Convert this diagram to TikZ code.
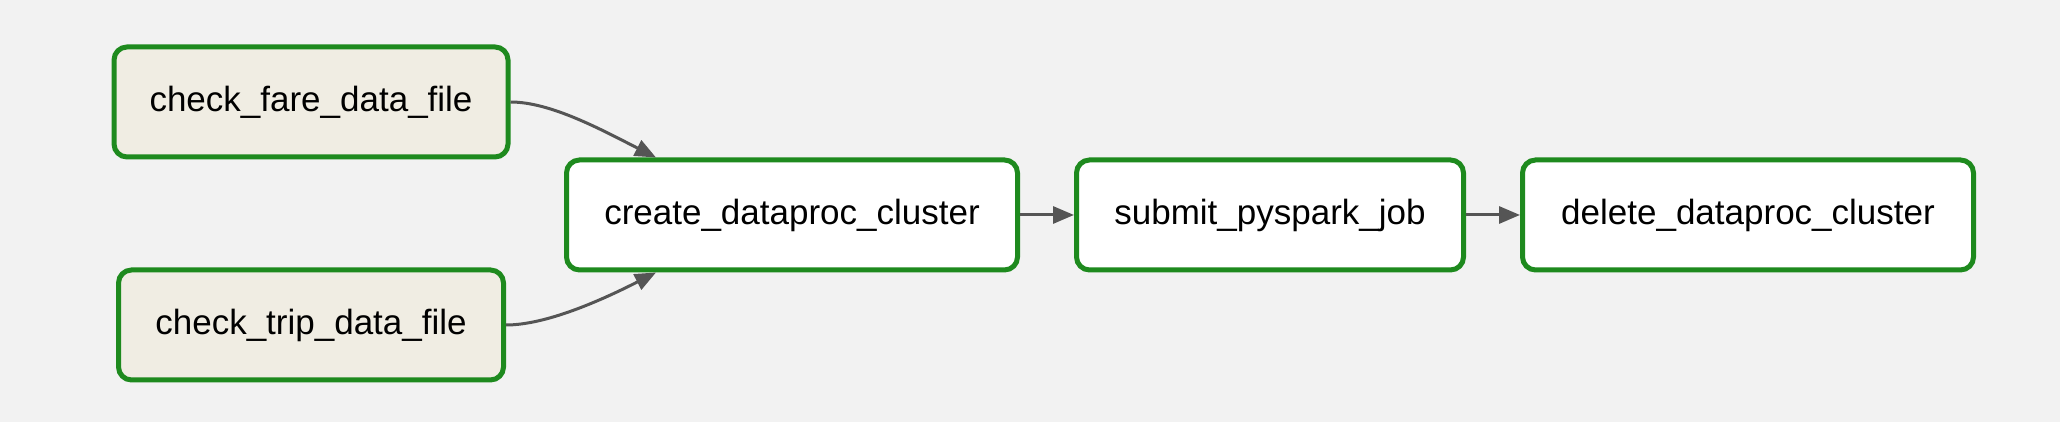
\documentclass[tikz,border=0pt]{standalone}
\usepackage{fontspec}
\setmainfont{Liberation Sans}
\usetikzlibrary{arrows.meta,calc}
\definecolor{bg}{HTML}{F2F2F2}
\definecolor{okgreen}{HTML}{1E8A1E}
\definecolor{sensorfill}{HTML}{F0EDE3}
\definecolor{edgegray}{HTML}{555555}
\tikzset{
  task/.style={draw=okgreen, line width=5pt, rounded corners=13pt, fill=white,
    minimum height=110pt, inner sep=0pt, font=\fontsize{35}{40}\selectfont},
  sensor/.style={task, fill=sensorfill},
  edge/.style={draw=edgegray, line width=3pt, -{Triangle[length=21pt,width=17pt]}}
}
\begin{document}
\begin{tikzpicture}[x=1pt,y=1pt]
\fill[bg] (0,0) rectangle (2060,422);
\useasboundingbox (0,0) rectangle (2060,422);
\node[sensor, minimum width=394pt] (fare) at (311,320) {check\_fare\_data\_file};
\node[sensor, minimum width=385pt] (trip) at (311,97) {check\_trip\_data\_file};
\node[task, minimum width=451pt] (create) at (792,207) {create\_dataproc\_cluster};
\node[task, minimum width=387pt] (submit) at (1270,207) {submit\_pyspark\_job};
\node[task, minimum width=451pt] (delete) at (1748,207) {delete\_dataproc\_cluster};
\coordinate (cin1) at ($(create.north west)+(92,0)$);
\coordinate (cin2) at ($(create.south west)+(92,0)$);
\draw[edge] (fare.east) .. controls +(40,0) and +(-55,28) .. (cin1);
\draw[edge] (trip.east) .. controls +(40,0) and +(-55,-28) .. (cin2);
\draw[edge] (create) -- (submit);
\draw[edge] (submit) -- (delete);
\end{tikzpicture}
\end{document}
